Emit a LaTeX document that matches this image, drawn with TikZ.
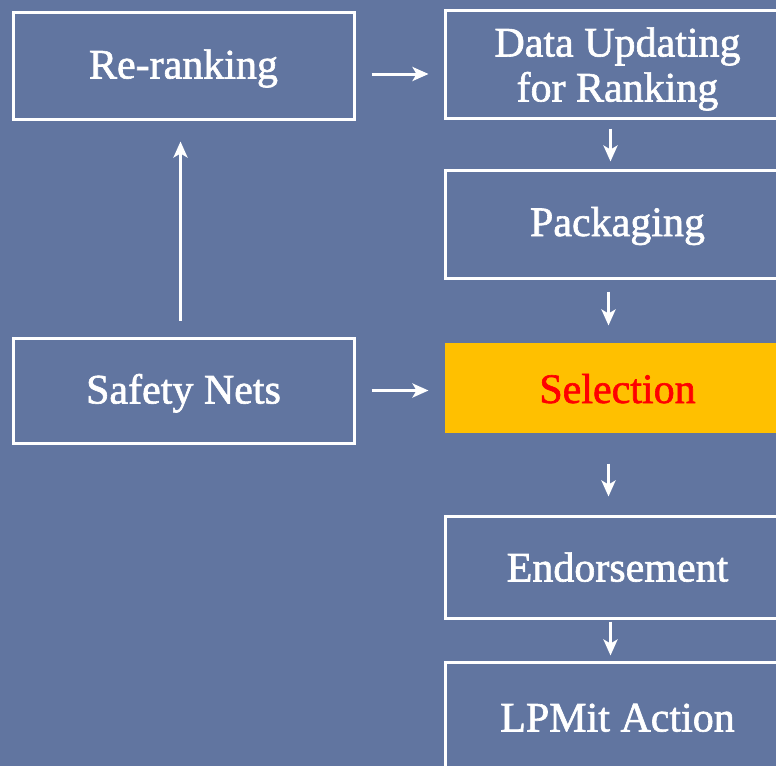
\documentclass[tikz,border=0pt]{standalone}
\usepackage{fontspec}
\setmainfont{Liberation Serif}
\newfontfamily\boxfont{Liberation Serif}[FakeBold=1.5]
\usetikzlibrary{arrows.meta}
\definecolor{bgblue}{HTML}{6175A0}
\definecolor{selfill}{HTML}{FFC000}
\tikzset{
  box/.style={draw=white, line width=3pt, text=white, align=center,
    inner sep=0pt, font=\boxfont\fontsize{42}{45}\selectfont,
    text depth=8pt, text height=34pt},
  arr/.style={draw=white, line width=3pt, -{Stealth[length=16pt,width=14pt,inset=4pt]}},
}
\begin{document}
\begin{tikzpicture}[x=1pt,y=-1pt]
\useasboundingbox (0,0) rectangle (776,766);
\clip (0,0) rectangle (776,766);
\fill[bgblue] (0,0) rectangle (776,766);
\node[box, minimum width=341pt, minimum height=107pt] (rer) at (183.5,65.5) {Re-ranking};
\node[box, minimum width=341pt, minimum height=105pt] (saf) at (183.5,390.5) {Safety Nets};
\node[box, minimum width=345pt, minimum height=108pt, text height=75pt, text depth=0pt] (dat) at (617.5,64) {Data Updating\\for Ranking};
\node[box, minimum width=345pt, minimum height=108pt, text height=32pt] (pac) at (617.5,224) {Packaging};
\node[box, draw=none, fill=selfill, text=red, minimum width=345pt, minimum height=90pt, text height=38pt] (sel) at (617.5,388) {Selection};
\node[box, minimum width=345pt, minimum height=102pt, text height=37pt] (end) at (617.5,567) {Endorsement};
\node[box, minimum width=345pt, minimum height=108pt, text height=39pt] (lpm) at (617.5,716) {LPMit Action};
\draw[arr, shorten <=16pt, shorten >=15pt] ([yshift=-8.5pt]rer.east) -- ([yshift=-8.5pt]rer.east -| dat.west);
\draw[arr, shorten <=16pt, shorten >=15pt] (saf.east) -- (saf.east -| sel.west);
\draw[arr, shorten <=9pt, shorten >=7pt] ([xshift=-7pt]dat.south) -- ([xshift=-7pt]pac.north);
\draw[arr, shorten <=12pt, shorten >=16pt] ([xshift=-9pt]pac.south) -- ([xshift=-9pt]sel.north);
\draw[arr, shorten <=29pt, shorten >=18pt] ([xshift=-9pt]sel.south) -- ([xshift=-9pt]end.north);
\draw[arr, shorten <=2pt, shorten >=5pt] ([xshift=-7pt]end.south) -- ([xshift=-7pt]lpm.north);
\draw[arr, shorten <=16pt, shorten >=21pt] ([xshift=-3pt]saf.north) -- ([xshift=-3pt]rer.south);
\end{tikzpicture}
\end{document}
